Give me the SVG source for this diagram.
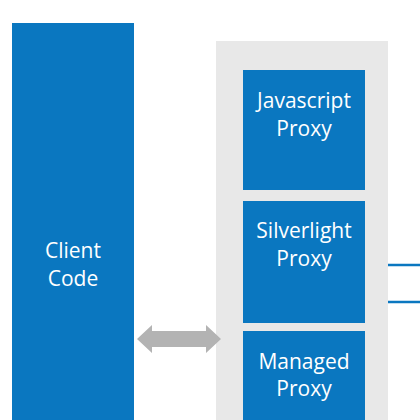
<svg xmlns="http://www.w3.org/2000/svg" width="420" height="420" viewBox="0 0 420 420">
<style>
.blue{fill:#0a77c0}
.t{font-family:"Open Sans","Noto Sans",sans-serif;font-size:21px;fill:#fff;text-anchor:middle}
.ln{stroke:#0a77c0;stroke-width:2.5;fill:none}
</style>
<rect width="420" height="420" fill="#fff"/>
<g id="client-code">
<rect class="blue" x="12" y="23" width="122" height="400"/>
<text class="t" x="73" y="258">Client</text>
<text class="t" x="73" y="286">Code</text>
</g>
<g id="proxy-container">
<rect x="216" y="41" width="172" height="382" fill="#e8e8e8"/>
</g>
<g id="javascript-proxy">
<rect class="blue" x="243" y="70" width="122" height="120"/>
<text class="t" x="304" y="108">Javascript</text>
<text class="t" x="304" y="136">Proxy</text>
</g>
<g id="silverlight-proxy">
<rect class="blue" x="243" y="201" width="122" height="122"/>
<text class="t" x="304" y="238">Silverlight</text>
<text class="t" x="304" y="266">Proxy</text>
</g>
<g id="managed-proxy">
<rect class="blue" x="243" y="331" width="122" height="92"/>
<text class="t" x="304" y="369">Managed</text>
<text class="t" x="304" y="396">Proxy</text>
</g>
<g id="connectors">
<polygon fill="#b3b3b3" points="137,339 152,325 152,331 206,331 206,325 221,339 206,353 206,347 152,347 152,353"/>
<line class="ln" x1="388" y1="265" x2="420" y2="265"/>
<line class="ln" x1="388" y1="302" x2="420" y2="302"/>
</g>
</svg>
